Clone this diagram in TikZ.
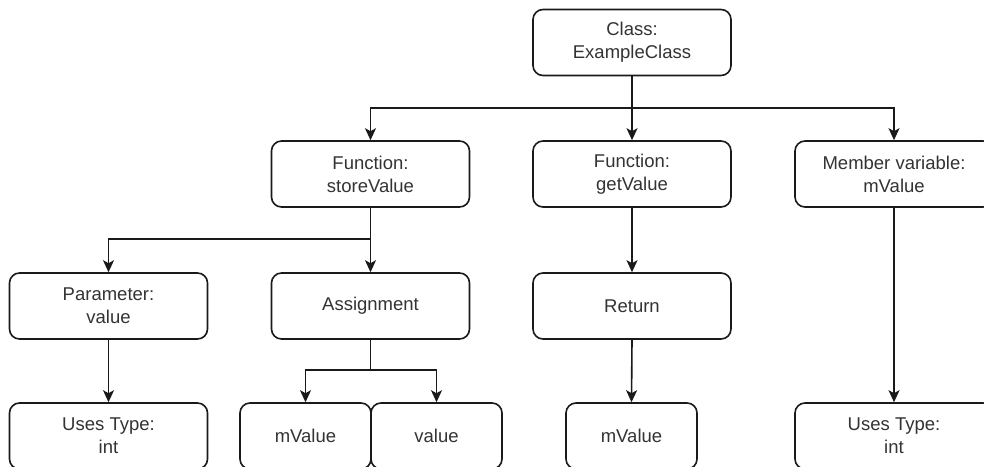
\documentclass[tikz,border=0pt]{standalone}
\usepackage{fontspec}
\setmainfont{Liberation Sans}
\usetikzlibrary{arrows.meta}
\definecolor{edge}{HTML}{1A1A1A}
\definecolor{label}{HTML}{333333}
\tikzset{
  box/.style={draw=edge, line width=1.6pt, rounded corners=10pt, fill=white,
    minimum height=66pt, align=center, text=label, inner sep=2pt,
    font=\fontsize{18.5}{23}\selectfont},
  widebox/.style={box, minimum width=198pt},
  narrowbox/.style={box, minimum width=131pt},
  link/.style={draw=edge, line width=1.6pt,
    -{Stealth[length=12pt,width=11pt,inset=3pt]}},
  plain/.style={draw=edge, line width=1.6pt}
}
\begin{document}
\begin{tikzpicture}[x=1pt,y=-1pt]
\clip (0,0) rectangle (984,466);
\fill[white] (0,0) rectangle (984,466);

% tree levels
\node[widebox] (cls) at (632,42.5) {Class:\\ExampleClass};

\node[widebox] (sv) at (370.5,174) {Function:\\storeValue};
\node[widebox] (gv) at (632,174) {Function:\\getValue};
\node[widebox] (mv) at (894,174) {Member variable:\\mValue};

\node[widebox] (par) at (108.5,306) {Parameter:\\value};
\node[widebox] (asg) at (370.5,306) {Assignment};
\node[widebox] (ret) at (632,306) {Return};

\node[widebox] (ut1) at (108.5,436) {Uses Type:\\int};
\node[narrowbox] (lhs) at (305.5,436) {mValue};
\node[narrowbox] (rhs) at (436.5,436) {value};
\node[narrowbox] (rv) at (631.5,436) {mValue};
\node[widebox] (ut2) at (894,436) {Uses Type:\\int};

% branch points
\coordinate (bus1) at (632,108);
\coordinate (bus2) at (370.5,239);
\coordinate (bus3) at (370.5,370);

% class members
\draw[plain] (cls.south) -- (bus1);
\draw[link] (bus1) -| (sv.north);
\draw[link] (bus1) -| (mv.north);
\draw[link] (cls.south) -- (gv.north);

% storeValue
\draw[plain] (sv.south) -- (bus2);
\draw[link] (bus2) -| (par.north);
\draw[link] (sv.south) -- (asg.north);

% assignment operands
\draw[plain] (asg.south) -- (bus3);
\draw[link] (bus3) -| (lhs.north);
\draw[link] (bus3) -| (rhs.north);

% remaining chains
\draw[link] (par.south) -- (ut1.north);
\draw[link] (gv.south) -- (ret.north);
\draw[link] (ret.south) -- (rv.north);
\draw[link] (mv.south) -- (ut2.north);
\end{tikzpicture}
\end{document}
